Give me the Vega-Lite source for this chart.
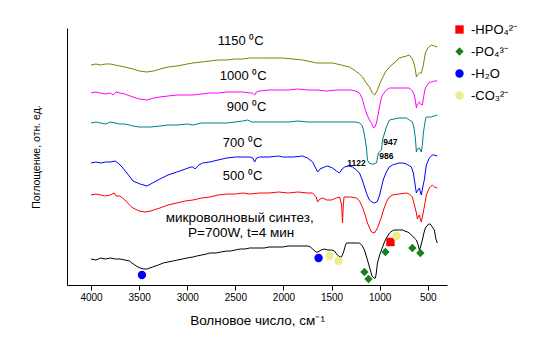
{
  "$schema": "https://vega.github.io/schema/vega-lite/v6.json",
  "width": 380,
  "height": 257,
  "autosize": {"type": "none"},
  "padding": {"left": 67, "top": 28, "right": 94, "bottom": 69},
  "background": "white",
  "config": {"view": {"stroke": null}, "font": "Liberation Sans", "text": {"font": "Liberation Sans"}},
  "datasets": {
    "spectra": [
      {"s":"MW","w":4000,"a":26},{"s":"MW","w":3950,"a":25},{"s":"MW","w":3900,"a":27},{"s":"MW","w":3850,"a":26},{"s":"MW","w":3800,"a":27},{"s":"MW","w":3750,"a":26},{"s":"MW","w":3700,"a":26},{"s":"MW","w":3650,"a":25},{"s":"MW","w":3600,"a":24},{"s":"MW","w":3575,"a":22},{"s":"MW","w":3530,"a":19},{"s":"MW","w":3490,"a":17},{"s":"MW","w":3450,"a":16},{"s":"MW","w":3420,"a":16},{"s":"MW","w":3360,"a":18},{"s":"MW","w":3300,"a":20},{"s":"MW","w":3250,"a":22},{"s":"MW","w":3200,"a":23},{"s":"MW","w":3150,"a":24},{"s":"MW","w":3100,"a":25},{"s":"MW","w":3050,"a":26},{"s":"MW","w":3000,"a":27},{"s":"MW","w":2940,"a":28},{"s":"MW","w":2900,"a":29},{"s":"MW","w":2850,"a":30},{"s":"MW","w":2800,"a":31},{"s":"MW","w":2766,"a":32},{"s":"MW","w":2700,"a":32},{"s":"MW","w":2650,"a":33},{"s":"MW","w":2589,"a":34},{"s":"MW","w":2550,"a":34},{"s":"MW","w":2500,"a":35},{"s":"MW","w":2450,"a":36},{"s":"MW","w":2400,"a":36},{"s":"MW","w":2350,"a":37},{"s":"MW","w":2300,"a":37},{"s":"MW","w":2247,"a":37},{"s":"MW","w":2200,"a":37},{"s":"MW","w":2150,"a":38},{"s":"MW","w":2100,"a":38},{"s":"MW","w":2050,"a":38},{"s":"MW","w":2008,"a":38},{"s":"MW","w":1950,"a":39},{"s":"MW","w":1900,"a":39},{"s":"MW","w":1850,"a":39},{"s":"MW","w":1800,"a":39},{"s":"MW","w":1750,"a":39},{"s":"MW","w":1720,"a":38},{"s":"MW","w":1697,"a":36},{"s":"MW","w":1660,"a":33},{"s":"MW","w":1640,"a":33},{"s":"MW","w":1610,"a":35},{"s":"MW","w":1573,"a":36},{"s":"MW","w":1540,"a":35},{"s":"MW","w":1500,"a":35},{"s":"MW","w":1470,"a":34},{"s":"MW","w":1440,"a":30},{"s":"MW","w":1410,"a":28},{"s":"MW","w":1396,"a":28},{"s":"MW","w":1375,"a":33},{"s":"MW","w":1355,"a":40},{"s":"MW","w":1344,"a":42},{"s":"MW","w":1300,"a":42},{"s":"MW","w":1250,"a":42},{"s":"MW","w":1210,"a":42},{"s":"MW","w":1180,"a":39},{"s":"MW","w":1158,"a":35},{"s":"MW","w":1130,"a":26},{"s":"MW","w":1106,"a":18},{"s":"MW","w":1080,"a":9},{"s":"MW","w":1060,"a":7},{"s":"MW","w":1044,"a":7},{"s":"MW","w":1035,"a":12},{"s":"MW","w":1023,"a":22},{"s":"MW","w":1000,"a":30},{"s":"MW","w":981,"a":35},{"s":"MW","w":950,"a":43},{"s":"MW","w":930,"a":47},{"s":"MW","w":898,"a":52},{"s":"MW","w":870,"a":54},{"s":"MW","w":850,"a":55},{"s":"MW","w":820,"a":55},{"s":"MW","w":795,"a":55},{"s":"MW","w":760,"a":55},{"s":"MW","w":740,"a":54},{"s":"MW","w":710,"a":53},{"s":"MW","w":691,"a":52},{"s":"MW","w":660,"a":49},{"s":"MW","w":640,"a":47},{"s":"MW","w":618,"a":45},{"s":"MW","w":600,"a":40},{"s":"MW","w":587,"a":35},{"s":"MW","w":575,"a":38},{"s":"MW","w":556,"a":45},{"s":"MW","w":540,"a":52},{"s":"MW","w":525,"a":57},{"s":"MW","w":510,"a":59},{"s":"MW","w":490,"a":61},{"s":"MW","w":475,"a":61},{"s":"MW","w":460,"a":59},{"s":"MW","w":445,"a":57},{"s":"MW","w":432,"a":55},{"s":"MW","w":415,"a":46},{"s":"MW","w":401,"a":42},

      {"s":"500","w":4000,"a":90},{"s":"500","w":3950,"a":91},{"s":"500","w":3900,"a":90},{"s":"500","w":3850,"a":89},{"s":"500","w":3800,"a":90},{"s":"500","w":3760,"a":92},{"s":"500","w":3740,"a":89},{"s":"500","w":3700,"a":89},{"s":"500","w":3660,"a":86},{"s":"500","w":3627,"a":83},{"s":"500","w":3590,"a":79},{"s":"500","w":3564,"a":77},{"s":"500","w":3500,"a":74},{"s":"500","w":3440,"a":73},{"s":"500","w":3380,"a":74},{"s":"500","w":3284,"a":77},{"s":"500","w":3200,"a":80},{"s":"500","w":3108,"a":82},{"s":"500","w":3020,"a":84},{"s":"500","w":2942,"a":85},{"s":"500","w":2850,"a":87},{"s":"500","w":2766,"a":88},{"s":"500","w":2680,"a":90},{"s":"500","w":2589,"a":91},{"s":"500","w":2500,"a":91},{"s":"500","w":2420,"a":92},{"s":"500","w":2350,"a":91},{"s":"500","w":2247,"a":92},{"s":"500","w":2150,"a":92},{"s":"500","w":2050,"a":93},{"s":"500","w":1950,"a":92},{"s":"500","w":1850,"a":93},{"s":"500","w":1750,"a":92},{"s":"500","w":1697,"a":92},{"s":"500","w":1660,"a":88},{"s":"500","w":1645,"a":83},{"s":"500","w":1620,"a":86},{"s":"500","w":1593,"a":87},{"s":"500","w":1550,"a":85},{"s":"500","w":1500,"a":85},{"s":"500","w":1450,"a":87},{"s":"500","w":1417,"a":88},{"s":"500","w":1395,"a":80},{"s":"500","w":1386,"a":62},{"s":"500","w":1378,"a":80},{"s":"500","w":1370,"a":88},{"s":"500","w":1300,"a":88},{"s":"500","w":1241,"a":87},{"s":"500","w":1210,"a":84},{"s":"500","w":1180,"a":78},{"s":"500","w":1150,"a":70},{"s":"500","w":1127,"a":62},{"s":"500","w":1100,"a":56},{"s":"500","w":1085,"a":53},{"s":"500","w":1054,"a":52},{"s":"500","w":1040,"a":54},{"s":"500","w":1023,"a":57},{"s":"500","w":1000,"a":63},{"s":"500","w":981,"a":68},{"s":"500","w":960,"a":75},{"s":"500","w":930,"a":83},{"s":"500","w":900,"a":88},{"s":"500","w":867,"a":90},{"s":"500","w":800,"a":91},{"s":"500","w":722,"a":92},{"s":"500","w":691,"a":91},{"s":"500","w":660,"a":88},{"s":"500","w":639,"a":80},{"s":"500","w":618,"a":72},{"s":"500","w":608,"a":66},{"s":"500","w":595,"a":69},{"s":"500","w":587,"a":70},{"s":"500","w":577,"a":66},{"s":"500","w":567,"a":63},{"s":"500","w":556,"a":68},{"s":"500","w":536,"a":78},{"s":"500","w":515,"a":90},{"s":"500","w":484,"a":97},{"s":"500","w":453,"a":100},{"s":"500","w":430,"a":98},{"s":"500","w":401,"a":97},

      {"s":"700","w":4000,"a":122},{"s":"700","w":3950,"a":123},{"s":"700","w":3900,"a":122},{"s":"700","w":3850,"a":123},{"s":"700","w":3800,"a":123},{"s":"700","w":3751,"a":124},{"s":"700","w":3720,"a":122},{"s":"700","w":3678,"a":118},{"s":"700","w":3627,"a":112},{"s":"700","w":3564,"a":104},{"s":"700","w":3490,"a":101},{"s":"700","w":3419,"a":99},{"s":"700","w":3360,"a":102},{"s":"700","w":3284,"a":106},{"s":"700","w":3200,"a":110},{"s":"700","w":3108,"a":113},{"s":"700","w":3020,"a":116},{"s":"700","w":2960,"a":118},{"s":"700","w":2942,"a":118},{"s":"700","w":2920,"a":116},{"s":"700","w":2880,"a":120},{"s":"700","w":2840,"a":122},{"s":"700","w":2766,"a":123},{"s":"700","w":2680,"a":125},{"s":"700","w":2589,"a":127},{"s":"700","w":2500,"a":128},{"s":"700","w":2423,"a":128},{"s":"700","w":2350,"a":128},{"s":"700","w":2320,"a":127},{"s":"700","w":2299,"a":123},{"s":"700","w":2280,"a":127},{"s":"700","w":2247,"a":128},{"s":"700","w":2150,"a":128},{"s":"700","w":2050,"a":129},{"s":"700","w":2008,"a":128},{"s":"700","w":1900,"a":128},{"s":"700","w":1801,"a":129},{"s":"700","w":1750,"a":127},{"s":"700","w":1697,"a":123},{"s":"700","w":1660,"a":116},{"s":"700","w":1645,"a":113},{"s":"700","w":1620,"a":116},{"s":"700","w":1573,"a":118},{"s":"700","w":1540,"a":119},{"s":"700","w":1490,"a":117},{"s":"700","w":1450,"a":114},{"s":"700","w":1417,"a":112},{"s":"700","w":1390,"a":116},{"s":"700","w":1365,"a":118},{"s":"700","w":1320,"a":119},{"s":"700","w":1282,"a":118},{"s":"700","w":1241,"a":115},{"s":"700","w":1210,"a":112},{"s":"700","w":1180,"a":105},{"s":"700","w":1158,"a":98},{"s":"700","w":1130,"a":90},{"s":"700","w":1106,"a":85},{"s":"700","w":1080,"a":83},{"s":"700","w":1054,"a":82},{"s":"700","w":1030,"a":83},{"s":"700","w":1023,"a":84},{"s":"700","w":1000,"a":90},{"s":"700","w":981,"a":98},{"s":"700","w":960,"a":106},{"s":"700","w":930,"a":113},{"s":"700","w":900,"a":118},{"s":"700","w":867,"a":120},{"s":"700","w":800,"a":122},{"s":"700","w":764,"a":122},{"s":"700","w":722,"a":121},{"s":"700","w":670,"a":118},{"s":"700","w":650,"a":112},{"s":"700","w":639,"a":105},{"s":"700","w":625,"a":96},{"s":"700","w":618,"a":92},{"s":"700","w":608,"a":94},{"s":"700","w":587,"a":97},{"s":"700","w":577,"a":93},{"s":"700","w":567,"a":90},{"s":"700","w":556,"a":96},{"s":"700","w":536,"a":105},{"s":"700","w":515,"a":120},{"s":"700","w":484,"a":127},{"s":"700","w":453,"a":130},{"s":"700","w":432,"a":130},{"s":"700","w":401,"a":129},

      {"s":"900","w":4000,"a":162},{"s":"900","w":3950,"a":163},{"s":"900","w":3900,"a":162},{"s":"900","w":3850,"a":161},{"s":"900","w":3800,"a":163},{"s":"900","w":3750,"a":162},{"s":"900","w":3700,"a":161},{"s":"900","w":3650,"a":161},{"s":"900","w":3600,"a":160},{"s":"900","w":3564,"a":159},{"s":"900","w":3500,"a":158},{"s":"900","w":3440,"a":158},{"s":"900","w":3380,"a":158},{"s":"900","w":3284,"a":159},{"s":"900","w":3200,"a":160},{"s":"900","w":3108,"a":160},{"s":"900","w":3000,"a":161},{"s":"900","w":2942,"a":160},{"s":"900","w":2850,"a":162},{"s":"900","w":2766,"a":162},{"s":"900","w":2680,"a":162},{"s":"900","w":2589,"a":162},{"s":"900","w":2500,"a":163},{"s":"900","w":2423,"a":164},{"s":"900","w":2371,"a":165},{"s":"900","w":2330,"a":163},{"s":"900","w":2247,"a":163},{"s":"900","w":2150,"a":163},{"s":"900","w":2050,"a":163},{"s":"900","w":1950,"a":163},{"s":"900","w":1850,"a":164},{"s":"900","w":1750,"a":163},{"s":"900","w":1650,"a":163},{"s":"900","w":1550,"a":163},{"s":"900","w":1450,"a":163},{"s":"900","w":1350,"a":163},{"s":"900","w":1300,"a":163},{"s":"900","w":1250,"a":163},{"s":"900","w":1210,"a":162},{"s":"900","w":1185,"a":160},{"s":"900","w":1168,"a":155},{"s":"900","w":1150,"a":145},{"s":"900","w":1137,"a":137},{"s":"900","w":1127,"a":125},{"s":"900","w":1110,"a":122},{"s":"900","w":1085,"a":121},{"s":"900","w":1060,"a":121},{"s":"900","w":1033,"a":122},{"s":"900","w":1013,"a":132},{"s":"900","w":995,"a":134},{"s":"900","w":981,"a":135},{"s":"900","w":971,"a":145},{"s":"900","w":955,"a":150},{"s":"900","w":930,"a":158},{"s":"900","w":898,"a":165},{"s":"900","w":850,"a":166},{"s":"900","w":800,"a":167},{"s":"900","w":722,"a":167},{"s":"900","w":691,"a":165},{"s":"900","w":660,"a":163},{"s":"900","w":645,"a":158},{"s":"900","w":629,"a":147},{"s":"900","w":618,"a":133},{"s":"900","w":608,"a":136},{"s":"900","w":587,"a":137},{"s":"900","w":577,"a":135},{"s":"900","w":567,"a":133},{"s":"900","w":556,"a":140},{"s":"900","w":546,"a":152},{"s":"900","w":525,"a":165},{"s":"900","w":515,"a":168},{"s":"900","w":463,"a":168},{"s":"900","w":432,"a":169},{"s":"900","w":401,"a":170},

      {"s":"1000","w":4000,"a":192},{"s":"1000","w":3950,"a":193},{"s":"1000","w":3900,"a":192},{"s":"1000","w":3850,"a":191},{"s":"1000","w":3800,"a":192},{"s":"1000","w":3772,"a":190},{"s":"1000","w":3740,"a":193},{"s":"1000","w":3700,"a":192},{"s":"1000","w":3650,"a":191},{"s":"1000","w":3564,"a":188},{"s":"1000","w":3500,"a":186},{"s":"1000","w":3419,"a":185},{"s":"1000","w":3350,"a":187},{"s":"1000","w":3284,"a":188},{"s":"1000","w":3200,"a":189},{"s":"1000","w":3108,"a":190},{"s":"1000","w":3000,"a":190},{"s":"1000","w":2942,"a":190},{"s":"1000","w":2850,"a":191},{"s":"1000","w":2766,"a":192},{"s":"1000","w":2680,"a":192},{"s":"1000","w":2589,"a":193},{"s":"1000","w":2500,"a":193},{"s":"1000","w":2423,"a":193},{"s":"1000","w":2340,"a":192},{"s":"1000","w":2320,"a":192},{"s":"1000","w":2299,"a":190},{"s":"1000","w":2280,"a":193},{"s":"1000","w":2247,"a":194},{"s":"1000","w":2150,"a":195},{"s":"1000","w":2050,"a":195},{"s":"1000","w":1950,"a":195},{"s":"1000","w":1850,"a":196},{"s":"1000","w":1750,"a":195},{"s":"1000","w":1650,"a":195},{"s":"1000","w":1550,"a":194},{"s":"1000","w":1450,"a":195},{"s":"1000","w":1350,"a":195},{"s":"1000","w":1300,"a":195},{"s":"1000","w":1250,"a":194},{"s":"1000","w":1210,"a":192},{"s":"1000","w":1180,"a":186},{"s":"1000","w":1158,"a":178},{"s":"1000","w":1130,"a":170},{"s":"1000","w":1106,"a":165},{"s":"1000","w":1085,"a":162},{"s":"1000","w":1064,"a":157},{"s":"1000","w":1050,"a":158},{"s":"1000","w":1033,"a":162},{"s":"1000","w":1013,"a":172},{"s":"1000","w":1002,"a":178},{"s":"1000","w":985,"a":186},{"s":"1000","w":971,"a":190},{"s":"1000","w":930,"a":195},{"s":"1000","w":898,"a":197},{"s":"1000","w":800,"a":197},{"s":"1000","w":722,"a":197},{"s":"1000","w":691,"a":197},{"s":"1000","w":660,"a":194},{"s":"1000","w":639,"a":190},{"s":"1000","w":625,"a":182},{"s":"1000","w":618,"a":177},{"s":"1000","w":608,"a":181},{"s":"1000","w":587,"a":183},{"s":"1000","w":577,"a":181},{"s":"1000","w":556,"a":180},{"s":"1000","w":536,"a":192},{"s":"1000","w":525,"a":197},{"s":"1000","w":490,"a":202},{"s":"1000","w":463,"a":203},{"s":"1000","w":432,"a":204},{"s":"1000","w":401,"a":204},

      {"s":"1150","w":4000,"a":220},{"s":"1150","w":3950,"a":221},{"s":"1150","w":3900,"a":220},{"s":"1150","w":3850,"a":221},{"s":"1150","w":3800,"a":221},{"s":"1150","w":3750,"a":220},{"s":"1150","w":3700,"a":219},{"s":"1150","w":3650,"a":218},{"s":"1150","w":3564,"a":216},{"s":"1150","w":3500,"a":214},{"s":"1150","w":3419,"a":213},{"s":"1150","w":3350,"a":214},{"s":"1150","w":3284,"a":216},{"s":"1150","w":3200,"a":218},{"s":"1150","w":3108,"a":219},{"s":"1150","w":3000,"a":221},{"s":"1150","w":2942,"a":222},{"s":"1150","w":2850,"a":223},{"s":"1150","w":2766,"a":224},{"s":"1150","w":2680,"a":225},{"s":"1150","w":2589,"a":225},{"s":"1150","w":2500,"a":226},{"s":"1150","w":2423,"a":226},{"s":"1150","w":2350,"a":227},{"s":"1150","w":2247,"a":227},{"s":"1150","w":2150,"a":227},{"s":"1150","w":2008,"a":227},{"s":"1150","w":1900,"a":226},{"s":"1150","w":1801,"a":225},{"s":"1150","w":1700,"a":223},{"s":"1150","w":1656,"a":222},{"s":"1150","w":1600,"a":222},{"s":"1150","w":1490,"a":222},{"s":"1150","w":1400,"a":220},{"s":"1150","w":1313,"a":218},{"s":"1150","w":1250,"a":214},{"s":"1150","w":1210,"a":211},{"s":"1150","w":1178,"a":208},{"s":"1150","w":1140,"a":202},{"s":"1150","w":1106,"a":198},{"s":"1150","w":1075,"a":192},{"s":"1150","w":1054,"a":190},{"s":"1150","w":1033,"a":193},{"s":"1150","w":1023,"a":195},{"s":"1150","w":1000,"a":201},{"s":"1150","w":971,"a":207},{"s":"1150","w":940,"a":213},{"s":"1150","w":898,"a":218},{"s":"1150","w":850,"a":222},{"s":"1150","w":795,"a":227},{"s":"1150","w":722,"a":229},{"s":"1150","w":691,"a":230},{"s":"1150","w":660,"a":226},{"s":"1150","w":639,"a":220},{"s":"1150","w":625,"a":213},{"s":"1150","w":618,"a":208},{"s":"1150","w":608,"a":210},{"s":"1150","w":587,"a":212},{"s":"1150","w":567,"a":212},{"s":"1150","w":546,"a":220},{"s":"1150","w":525,"a":232},{"s":"1150","w":500,"a":237},{"s":"1150","w":463,"a":240},{"s":"1150","w":432,"a":239},{"s":"1150","w":401,"a":238}
    ],
    "markers": [
      {"t":"-HPO₄²⁻","w":888,"a":43},
      {"t":"-PO₄³⁻","w":1158,"a":13},{"t":"-PO₄³⁻","w":1116,"a":6},{"t":"-PO₄³⁻","w":940,"a":33},{"t":"-PO₄³⁻","w":660,"a":37},{"t":"-PO₄³⁻","w":577,"a":32},
      {"t":"-H₂O","w":3471,"a":10},{"t":"-H₂O","w":1635,"a":27},
      {"t":"-CO₃²⁻","w":1521,"a":29},{"t":"-CO₃²⁻","w":1428,"a":24},{"t":"-CO₃²⁻","w":826,"a":49}
    ],
    "labels": [
      {"w":2683,"a":244,"t":"1150 ⁰C"},
      {"w":2662,"a":209,"t":"1000 ⁰C"},
      {"w":2589,"a":178,"t":"900 ⁰C"},
      {"w":2631,"a":142,"t":"700 ⁰C"},
      {"w":2631,"a":109,"t":"500 ⁰C"}
    ],
    "notes": [
      {"w":2455,"a":67,"t":"микроволновый синтез,"},
      {"w":2440,"a":52,"t":"P=700W, t=4 мин"}
    ],
    "peaks": [
      {"w":888,"a":143,"t":"947"},
      {"w":930,"a":129,"t":"986"},
      {"w":1241,"a":122,"t":"1122"}
    ]
  },
  "layer": [
    {
      "data": {"name": "spectra"},
      "mark": {"type": "line", "strokeWidth": 1},
      "encoding": {
        "x": {
          "field": "w", "type": "quantitative",
          "scale": {"domain": [300, 4250], "reverse": true, "nice": false, "zero": false},
          "axis": {
            "title": "Волновое число, см⁻¹",
            "values": [4000, 3750, 3500, 3250, 3000, 2750, 2500, 2250, 2000, 1750, 1500, 1250, 1000, 750, 500],
            "labelExpr": "datum.value % 500 === 0 ? format(datum.value, 'd') : ''",
            "tickSize": {"condition": {"test": "datum.value % 500 === 0", "value": 5}, "value": 3},
            "grid": false,
            "domainColor": "black",
            "tickColor": "black",
            "labelColor": "black",
            "labelFontSize": 10,
            "labelPadding": 2,
            "titleFontSize": 13.5,
            "titleFontWeight": "normal",
            "titleColor": "black",
            "titlePadding": 11
          }
        },
        "y": {
          "field": "a", "type": "quantitative",
          "scale": {"domain": [0, 257], "nice": false, "zero": false},
          "axis": {
            "title": "Поглощение, отн. ед.",
            "labels": false,
            "ticks": false,
            "grid": false,
            "domainColor": "black",
            "titleFontSize": 10.5,
            "titleFontWeight": "normal",
            "titleColor": "black",
            "titlePadding": 26
          }
        },
        "stroke": {
          "field": "s", "type": "nominal",
          "scale": {"domain": ["MW", "500", "700", "900", "1000", "1150"], "range": ["#000000", "#ff0000", "#0000ff", "#008080", "#ff00ff", "#808000"]},
          "legend": null
        }
      }
    },
    {
      "data": {"name": "markers"},
      "mark": {"type": "point", "filled": true, "size": 70, "opacity": 1},
      "encoding": {
        "x": {"field": "w", "type": "quantitative"},
        "y": {"field": "a", "type": "quantitative"},
        "color": {
          "field": "t", "type": "nominal",
          "scale": {"domain": ["-HPO₄²⁻", "-PO₄³⁻", "-H₂O", "-CO₃²⁻"], "range": ["#ff0000", "#1a7f1a", "#0000ff", "#eded8c"]},
          "legend": {
            "orient": "none", "legendX": 386, "legendY": -5, "title": null,
            "labelFontSize": 13, "labelColor": "black", "symbolSize": 70, "rowPadding": 8, "labelOffset": 5, "symbolStrokeWidth": 0
          }
        },
        "shape": {
          "field": "t", "type": "nominal",
          "scale": {"domain": ["-HPO₄²⁻", "-PO₄³⁻", "-H₂O", "-CO₃²⁻"], "range": ["square", "diamond", "circle", "circle"]}
        }
      }
    },
    {
      "data": {"name": "labels"},
      "mark": {"type": "text", "align": "left", "baseline": "middle", "fontSize": 13, "color": "black"},
      "encoding": {
        "x": {"field": "w", "type": "quantitative"},
        "y": {"field": "a", "type": "quantitative"},
        "text": {"field": "t"}
      }
    },
    {
      "data": {"name": "notes"},
      "mark": {"type": "text", "align": "center", "baseline": "middle", "fontSize": 13.5, "color": "black"},
      "encoding": {
        "x": {"field": "w", "type": "quantitative"},
        "y": {"field": "a", "type": "quantitative"},
        "text": {"field": "t"}
      }
    },
    {
      "data": {"name": "peaks"},
      "mark": {"type": "text", "align": "center", "baseline": "middle", "fontSize": 8.5, "fontWeight": "bold", "color": "black"},
      "encoding": {
        "x": {"field": "w", "type": "quantitative"},
        "y": {"field": "a", "type": "quantitative"},
        "text": {"field": "t"}
      }
    }
  ]
}
